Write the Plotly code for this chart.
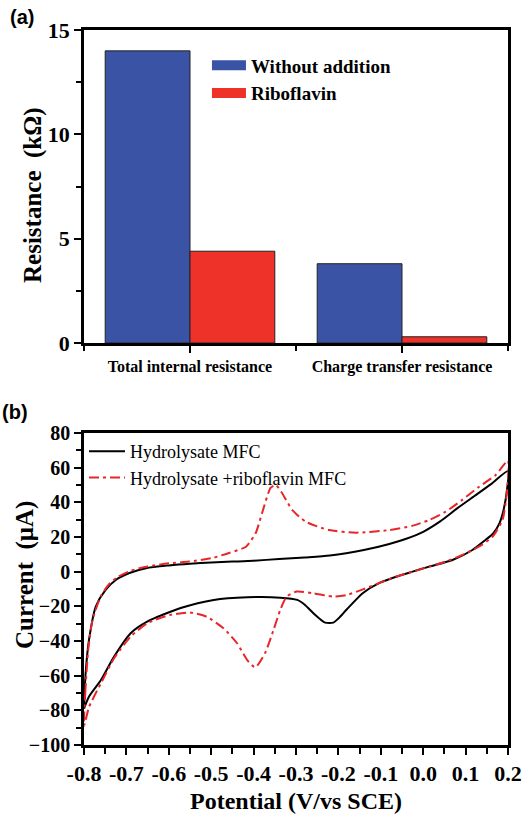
import plotly.graph_objects as go

# ---------- Panel (a) data ----------
categories = ["Total internal resistance", "Charge transfer resistance"]
cat_pos = [1, 2]
without_addition = [14.0, 3.8]
riboflavin = [4.4, 0.3]

# ---------- Panel (b) data (closed CV loops) ----------
black_x = [-0.8, -0.796, -0.788, -0.772, -0.749, -0.725, -0.693, -0.654, -0.6, -0.55, -0.5, -0.45, -0.4,
           -0.34, -0.28, -0.22, -0.14, -0.08, -0.04, 0.0, 0.04, 0.08, 0.12, 0.16, 0.2,
           0.198, 0.19, 0.18, 0.165, 0.147, 0.116, 0.069, 0.014, -0.025, -0.064, -0.103, -0.142, -0.181,
           -0.2, -0.212, -0.231, -0.245, -0.259, -0.28, -0.297, -0.337, -0.415, -0.494, -0.572, -0.651,
           -0.69, -0.729, -0.76, -0.788, -0.8]
black_y = [-78, -58, -39, -20, -10.5, -4.8, -0.8, 2, 3.6, 4.6, 5.3, 5.8, 6.3,
           7.3, 8.2, 9.3, 12.5, 16, 19, 23, 29, 36.5, 43.5, 50.5, 58,
           48, 36, 28, 22, 18.3, 12.5, 6.7, 2.9, 0, -2.9, -6.5, -12.3, -22,
           -27, -29.4, -29.4, -27, -24, -19, -16.3, -15, -14.8, -16.3, -21, -28.8,
           -35.5, -49, -62.5, -72, -79]

red_x = [-0.8, -0.797, -0.79, -0.78, -0.76, -0.74, -0.72, -0.69, -0.65, -0.6, -0.553, -0.497, -0.458,
         -0.418, -0.395, -0.38, -0.36, -0.348, -0.333, -0.309, -0.277, -0.222, -0.159, -0.08, -0.026,
         0.014, 0.053, 0.092, 0.132, 0.171, 0.2,
         0.198, 0.187, 0.163, 0.131, 0.092, 0.053, 0.014, -0.025, -0.064, -0.103, -0.142, -0.181,
         -0.212, -0.259, -0.298, -0.322, -0.337, -0.353, -0.373, -0.396, -0.415, -0.439, -0.471,
         -0.511, -0.55, -0.597, -0.651, -0.69, -0.729, -0.76, -0.788, -0.8]
red_y = [-89, -70, -45, -28, -14, -7, -3, 0.5, 3, 4.8, 5.8, 7.9, 10.8,
         14.4, 22.3, 33.8, 48.3, 50, 45.4, 35.6, 28.8, 24, 22.5, 24, 26.4,
         29.8, 34.6, 41.4, 49, 55.8, 64,
         47, 29.8, 20, 14.4, 9.6, 5.8, 2.9, 0, -2.9, -6.5, -10.2, -13.5,
         -14.4, -12.5, -11.5, -14.4, -22, -33.6, -47, -55.2, -51, -41.3, -32.7,
         -26, -23.6, -25, -29.8, -37.5, -50, -64.4, -78, -89]

x_ticks_b = [-0.8, -0.7, -0.6, -0.5, -0.4, -0.3, -0.2, -0.1, 0.0, 0.1, 0.2]
x_ticktext_b = ["-0.8", "-0.7", "-0.6", "-0.5", "-0.4", "-0.3", "-0.2", "-0.1", "0.0", "0.1", "0.2"]
y_ticks_b = [-100, -80, -60, -40, -20, 0, 20, 40, 60, 80]

SERIF = "Liberation Serif, Times New Roman, serif"
SANS = "Liberation Sans, Arial, sans-serif"
BLUE = "#3a53a4"
RED = "#ee3129"

fig = go.Figure()

# bars (legend entries drawn as wide swatches via legend-only traces below)
fig.add_trace(go.Bar(x=cat_pos, y=without_addition, name="Without addition",
                     marker=dict(color=BLUE, line=dict(color="#222222", width=1)),
                     xaxis="x", yaxis="y", legendgroup="wo", showlegend=False))
fig.add_trace(go.Bar(x=cat_pos, y=riboflavin, name="Riboflavin",
                     marker=dict(color=RED, line=dict(color="#222222", width=1)),
                     xaxis="x", yaxis="y", legendgroup="rb", showlegend=False))
fig.add_trace(go.Scatter(x=[None], y=[None], mode="lines", name="Without addition",
                         line=dict(color=BLUE, width=13), xaxis="x", yaxis="y",
                         legendgroup="wo", legend="legend"))
fig.add_trace(go.Scatter(x=[None], y=[None], mode="lines", name="Riboflavin",
                         line=dict(color=RED, width=13), xaxis="x", yaxis="y",
                         legendgroup="rb", legend="legend"))

fig.add_trace(go.Scatter(x=black_x, y=black_y, mode="lines", name="Hydrolysate MFC",
                         line=dict(color="black", width=2, shape="spline", smoothing=0.7),
                         xaxis="x2", yaxis="y2", legend="legend2"))
fig.add_trace(go.Scatter(x=red_x, y=red_y, mode="lines", name="Hydrolysate +riboflavin MFC",
                         line=dict(color="#e8262a", width=2, dash="10px,4px,3px,4px",
                                   shape="spline", smoothing=0.6),
                         xaxis="x2", yaxis="y2", legend="legend2"))

axis_common = dict(showline=True, linecolor="black", linewidth=2.5, mirror=True,
                   showgrid=False, zeroline=False, ticks="outside", tickcolor="black",
                   tickwidth=2, ticklen=7, automargin=False)

fig.update_layout(
    width=526, height=814,
    margin=dict(l=84, r=18, t=30, b=69, autoexpand=False),
    paper_bgcolor="white", plot_bgcolor="white",
    barmode="group", bargap=0.2, bargroupgap=0,
    font=dict(family=SERIF, color="black"),
    xaxis=dict(**axis_common, domain=[0, 1], anchor="y", range=[0.5, 2.5],
               tickmode="array", tickvals=cat_pos, ticktext=categories,
               tickfont=dict(family=SERIF, size=16, weight="bold"),
               minor=dict(tickvals=[0.5, 1.5, 2.5], ticks="outside", ticklen=5,
                          tickwidth=2, tickcolor="black")),
    yaxis=dict(**axis_common, domain=[0.5622, 1], anchor="x", range=[0, 15],
               tickvals=[0, 5, 10, 15],
               tickfont=dict(family=SERIF, size=22, weight="bold"),
               minor=dict(tickvals=[2.5, 7.5, 12.5], ticks="outside", ticklen=5,
                          tickwidth=2, tickcolor="black")),
    xaxis2=dict(**axis_common, domain=[0, 1], anchor="y2", range=[-0.8, 0.2],
                tickvals=x_ticks_b, ticktext=x_ticktext_b,
                tickfont=dict(family=SERIF, size=22, weight="bold"),
                minor=dict(dtick=0.05, tick0=-0.8, ticks="outside", ticklen=6,
                           tickwidth=2, tickcolor="black"),
                title=dict(text="Potential (V/vs SCE)", standoff=16,
                           font=dict(family=SERIF, size=24, weight="bold"))),
    yaxis2=dict(**axis_common, domain=[0, 0.4364], anchor="x2", range=[-100, 80],
                tickvals=y_ticks_b,
                tickfont=dict(family=SERIF, size=20, weight="bold"),
                minor=dict(dtick=10, tick0=0, ticks="outside", ticklen=5,
                           tickwidth=2, tickcolor="black")),
    legend=dict(x=0.29, y=0.977, xanchor="left", yanchor="top",
                bgcolor="rgba(0,0,0,0)", tracegroupgap=0, itemwidth=34,
                font=dict(family=SERIF, size=19, weight="bold")),
    legend2=dict(x=0.0, y=0.4364, xanchor="left", yanchor="top",
                 bgcolor="rgba(0,0,0,0)", itemwidth=36,
                 font=dict(family=SERIF, size=18)),
    showlegend=True,
)

# y-axis titles
fig.add_annotation(text="Resistance  (kΩ)", xref="paper", yref="paper",
                   x=(33 - 84) / 424, y=(745 - 195) / 715, textangle=-90,
                   xanchor="center", yanchor="middle", showarrow=False,
                   font=dict(family=SERIF, size=25, weight="bold"))
fig.add_annotation(text="Current  (μA)", xref="paper", yref="paper",
                   x=(25 - 84) / 424, y=(745 - 575) / 715, textangle=-90,
                   xanchor="center", yanchor="middle", showarrow=False,
                   font=dict(family=SERIF, size=25, weight="bold"))

# panel labels
fig.add_annotation(text="(a)", xref="paper", yref="paper", x=(8 - 84) / 424, y=(745 - 17) / 715,
                   xanchor="left", yanchor="middle", showarrow=False,
                   font=dict(family=SANS, size=20, weight="bold"))
fig.add_annotation(text="(b)", xref="paper", yref="paper", x=(0 - 84) / 424, y=(745 - 412) / 715,
                   xanchor="left", yanchor="middle", showarrow=False,
                   font=dict(family=SANS, size=20, weight="bold"))

fig.write_html("out.html")
